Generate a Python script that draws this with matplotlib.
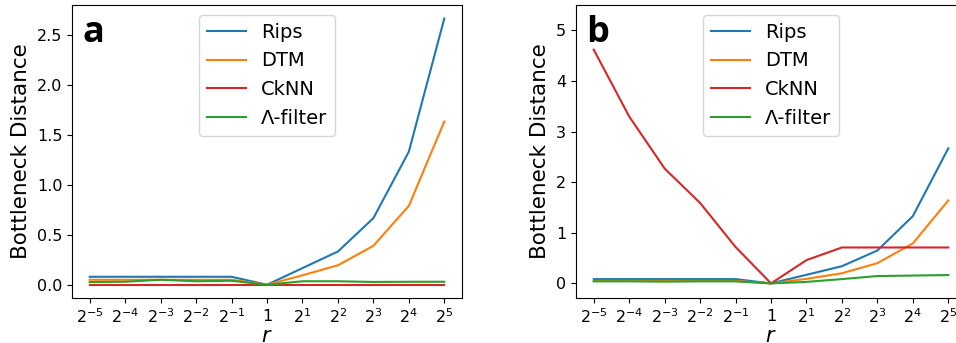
import numpy as np
import matplotlib
matplotlib.use("Agg")
import matplotlib.pyplot as plt

# exponents of r = 2^k
exponents = np.arange(-5, 6)
tick_labels = [r"$2^{%d}$" % k if k != 0 else r"$1$" for k in exponents]

# panel a
rips_a = [0.08, 0.08, 0.08, 0.08, 0.08, 0.0, 0.167, 0.333, 0.667, 1.333, 2.667]
dtm_a = [0.05, 0.05, 0.05, 0.05, 0.05, 0.0, 0.095, 0.195, 0.39, 0.79, 1.635]
cknn_a = [0.0, 0.0, 0.0, 0.0, 0.0, 0.0, 0.0, 0.0, 0.0, 0.0, 0.0]
lam_a = [0.027, 0.03, 0.05, 0.035, 0.04, 0.0, 0.035, 0.035, 0.028, 0.03, 0.03]

# panel b
rips_b = [0.085, 0.085, 0.085, 0.085, 0.085, 0.0, 0.17, 0.34, 0.65, 1.33, 2.67]
dtm_b = [0.05, 0.05, 0.05, 0.05, 0.05, 0.0, 0.09, 0.2, 0.4, 0.79, 1.64]
cknn_b = [4.62, 3.30, 2.27, 1.59, 0.72, 0.0, 0.46, 0.71, 0.71, 0.71, 0.71]
lam_b = [0.04, 0.04, 0.035, 0.04, 0.04, 0.0, 0.03, 0.085, 0.145, 0.155, 0.165]

names = ["Rips", "DTM", "CkNN", "Λ-filter"]
colors = ["tab:blue", "tab:orange", "tab:red", "tab:green"]

fig = plt.figure(figsize=(9.56, 3.43), dpi=100)

ax_a = fig.add_axes([0.0753, 0.131, 0.408, 0.854])
ax_b = fig.add_axes([0.6025, 0.131, 0.408, 0.854])

panels = [
    (ax_a, [rips_a, dtm_a, cknn_a, lam_a], "a"),
    (ax_b, [rips_b, dtm_b, cknn_b, lam_b], "b"),
]

for ax, series, letter in panels:
    for vals, name, col in zip(series, names, colors):
        ax.plot(exponents, vals, color=col, label=name, linewidth=1.5)

    ax.set_xticks(exponents)
    ax.set_xticklabels(tick_labels)
    ax.tick_params(labelsize=11.5)
    ax.set_xlabel(r"$r$", fontsize=15, labelpad=0)
    ax.set_ylabel("Bottleneck Distance", fontsize=15.5)
    ax.legend(loc="upper center", fontsize=14)
    ax.text(
        0.026, 0.874, letter,
        transform=ax.transAxes,
        fontsize=26,
        fontfamily="Open Sans",
        fontweight="bold",
        va="baseline",
        ha="left"
    )

ax_b.set_ylim(-0.29, 5.5)

fig.savefig("out.png", dpi=100)
